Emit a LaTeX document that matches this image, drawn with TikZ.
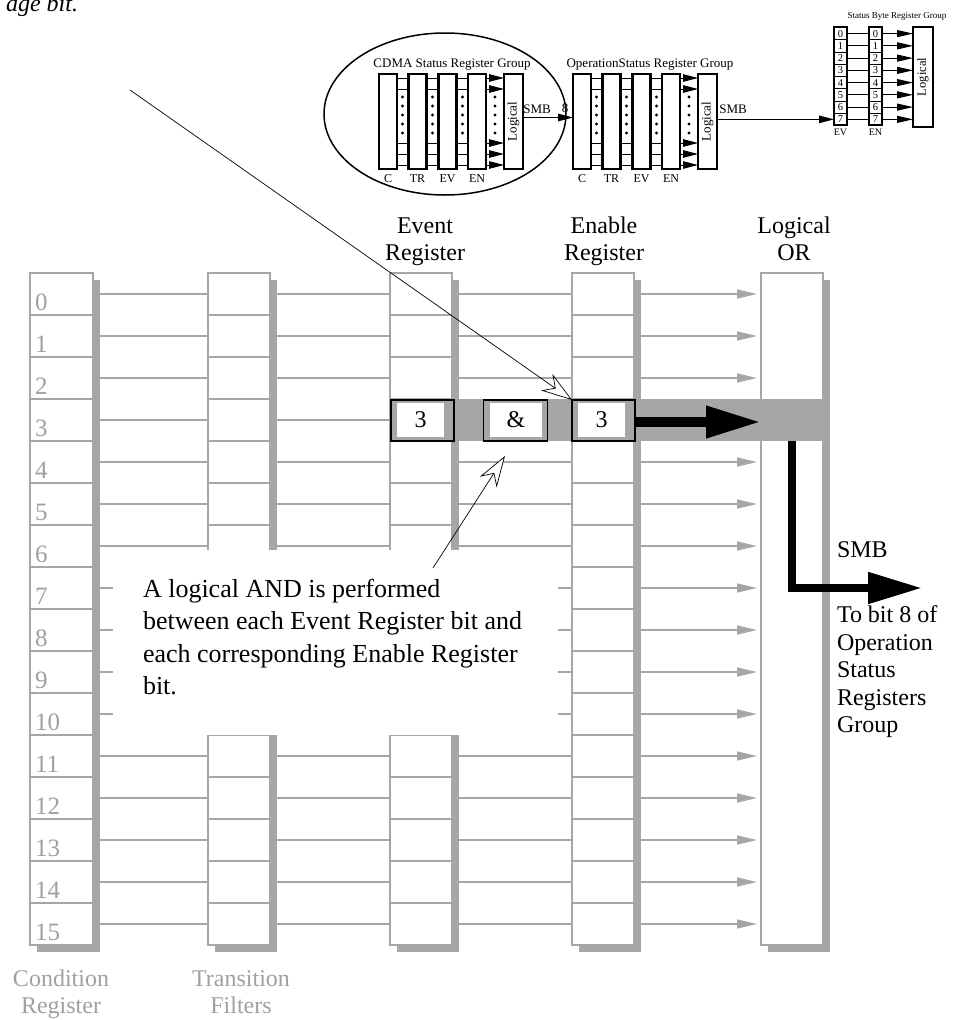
\documentclass[tikz,border=0pt]{standalone}
\usepackage{fontspec}
\setmainfont{Liberation Serif}
\usetikzlibrary{arrows.meta,shapes.geometric,shadows,backgrounds}
\definecolor{reggray}{RGB}{166,166,166}
\definecolor{txtgray}{RGB}{160,160,160}
\begin{document}
\begin{tikzpicture}[x=1pt,y=-1pt,
 every node/.style={inner sep=0pt,outer sep=0pt},
 regcol/.style={draw=reggray,line width=1.2pt,fill=white,minimum width=#1,minimum height=672,
   drop shadow={shadow xshift=7pt,shadow yshift=-7pt,fill=reggray,opacity=1}},
 sepline/.style={draw=reggray,line width=1.2pt},
 conn/.style={draw=reggray,line width=1.5pt},
 grayarrow/.style={conn,-{Triangle[length=20pt,width=9pt]},shorten >=4pt},
 bigfont/.style={font=\fontsize{24}{27}\selectfont},
 rownum/.style={font=\fontsize{25}{27}\selectfont,text=txtgray,anchor=base west},
 bitbox/.style={draw=black,line width=1.5pt,fill=reggray,minimum height=41},
 bitin/.style={fill=white,minimum height=34,font=\fontsize{24}{27}\selectfont},
 pointer/.style={draw=black,line width=0.7pt,-{Stealth[open,fill=white,length=31pt,width=20pt,inset=10pt]}},
 mbox/.style={draw=black,line width=2.4pt,fill=white,minimum width=18,minimum height=95},
 mline/.style={draw=black,line width=1pt},
 marrow/.style={draw=black,line width=1pt,-{Triangle[length=15pt,width=7.5pt]}},
 minifont/.style={font=\fontsize{13}{15}\selectfont},
 minilbl/.style={font=\fontsize{12}{14}\selectfont,anchor=base},
 sbcell/.style={draw=black,line width=0.9pt,minimum width=13,minimum height=12.25,font=\fontsize{10.5}{12}\selectfont},
]
\useasboundingbox (0,0) rectangle (959,1020);

% cut-off text of previous paragraph
\node[font=\itshape\fontsize{24}{27}\selectfont,anchor=base east] (prevtxt) at (78,11) {age bit.};

% row coordinates
\foreach \i in {0,...,15} \coordinate (r\i) at (0,294+42*\i);
\foreach \k in {1,...,15} \coordinate (s\k) at (0,273+42*\k);

% register columns
\node[regcol=63] (cr) at (61.5,609) {};
\node[regcol=62] (tr) at (239,609) {};
\node[regcol=62] (ev) at (421,609) {};
\node[regcol=62] (en) at (603,609) {};
\node[regcol=62] (lor) at (792,609) {};

% row separators
\foreach \k in {1,...,15}{
  \foreach \c in {cr,tr,ev,en}
    \draw[sepline] (\c.west |- s\k) -- (\c.east |- s\k);
}

% connectors
\begin{scope}[on background layer]
\foreach \i in {0,...,15}{
  \draw[conn] (cr.east |- r\i) -- (tr.west |- r\i);
  \draw[conn] (tr.east |- r\i) -- (ev.west |- r\i);
  \draw[conn] (ev.east |- r\i) -- (en.west |- r\i);
  \draw[grayarrow] (en.east |- r\i) -- (lor.west |- r\i);
}
\end{scope}

% row numbers
\foreach \i in {0,...,15} \node[rownum] (num\i) at (35,310+42*\i) {\i};

% highlighted bit 3
\node[fill=reggray,minimum width=433,minimum height=42] (band) at (606.5,420) {};
\node[bitbox,minimum width=63] (evbit) at (422.5,420.5) {};
\node[bitin,minimum width=47] (evbitin) at (420.5,420) {3};
\node[bitbox,minimum width=64] (andbit) at (515.3,420.5) {};
\node[bitin,minimum width=52] (andbitin) at (516,420) {\&};
\node[bitbox,minimum width=63] (enbit) at (603.6,420.5) {};
\node[bitin,minimum width=47] (enbitin) at (601.6,420) {3};
\draw[line width=10pt,-{Triangle[length=55pt,width=30pt]}] (enbit.east |- 0,422) -- (lor.west |- 0,422);

\coordinate (smbend) at (922,588);
\draw[line width=8pt,-{Triangle[length=54pt,width=30pt]}] (lor.center |- band.south) -- (lor.center |- smbend) -- (smbend);

% callout
\node[fill=white,minimum width=445,minimum height=185] (callbg) at (335.5,642.5) {};
\node[font=\fontsize{26}{32.5}\selectfont,align=left,anchor=north west] (calltxt) at (143,579)
  {A logical AND is performed\\between each Event Register bit and\\each corresponding Enable Register\\bit.};

\coordinate (pA) at (130,90);
\draw[pointer] (pA) -- (enbit.north west);
\coordinate (pB) at (433,568);
\coordinate (pBtip) at (505,456);
\draw[pointer] (pB) -- (pBtip);

% labels
\node[bigfont,align=center,anchor=south] (evlbl) at (425,266) {Event\\Register};
\node[bigfont,align=center,anchor=south] (enlbl) at (604,266) {Enable\\Register};
\node[bigfont,align=center,anchor=south] (orlbl) at (794,261) {Logical\\OR};
\node[bigfont,align=center,anchor=south,text=txtgray] (crlbl) at (61,1019) {Condition\\Register};
\node[bigfont,align=center,anchor=south,text=txtgray] (tflbl) at (241,1014) {Transition\\Filters};
\node[bigfont,anchor=base west] (smblbl) at (837,557) {SMB};
\node[font=\fontsize{24}{27.5}\selectfont,align=left,anchor=north west] (tobit) at (837,606)
  {To bit 8 of\\Operation\\Status\\Registers\\Group};

% ---------- overview diagram ----------
\node[draw=black,line width=1.5pt,ellipse,minimum width=242,minimum height=162] (cdell) at (445,114) {};

\foreach \g/\dx in {cd/0,op/194}{
  \node[mbox] (\g-C) at (388+\dx,121.5) {};
  \node[mbox] (\g-TR) at (417.5+\dx,121.5) {};
  \node[mbox] (\g-EV) at (447.5+\dx,121.5) {};
  \node[mbox] (\g-EN) at (477+\dx,121.5) {};
  \node[mbox,minimum width=19] (\g-L) at (513.5+\dx,121.5) {};
  \node[minifont,rotate=90] (\g-Ltxt) at (\g-L) {Logical};
  \foreach \y in {78,89,143,154,165}{
    \draw[mline] (\g-C.east |- 0,\y) -- (\g-TR.west |- 0,\y);
    \draw[mline] (\g-TR.east |- 0,\y) -- (\g-EV.west |- 0,\y);
    \draw[mline] (\g-EV.east |- 0,\y) -- (\g-EN.west |- 0,\y);
    \draw[marrow] (\g-EN.east |- 0,\y) -- (\g-L.west |- 0,\y);
  }
  \foreach \xx in {402.5,432.5,462.5,495}
    \foreach \yy in {97,106,115,124,133}
      \fill (\xx+\dx,\yy) circle[radius=1.6pt];
  \node[minilbl] (\g-lC) at (\g-C.south |- 0,182) {C};
  \node[minilbl] (\g-lTR) at (\g-TR.south |- 0,182) {TR};
  \node[minilbl] (\g-lEV) at (\g-EV.south |- 0,182) {EV};
  \node[minilbl] (\g-lEN) at (\g-EN.south |- 0,182) {EN};
}
\node[minifont,anchor=base] (cdtitle) at (452,67) {CDMA Status Register Group};
\node[minifont,anchor=base] (optitle) at (650,67) {OperationStatus Register Group};

% status byte group
\node[draw=black,line width=2.2pt,minimum width=20,minimum height=100] (sbL) at (923,77) {};
\node[font=\fontsize{12.5}{14}\selectfont,rotate=90] (sbLtxt) at (sbL) {Logical};
\foreach \i in {0,...,7}{
  \node[sbcell] (sbev\i) at (840.5,33.6+12.25*\i) {\i};
  \node[sbcell] (sben\i) at (875.5,33.6+12.25*\i) {\i};
  \draw[mline] (sbev\i.east) -- (sben\i.west);
  \draw[draw=black,line width=1pt,-{Triangle[length=16pt,width=7pt]}] (sben\i.east) -- (sbL.west |- sben\i.east);
}
\draw[line width=2pt] (sbev0.north west) rectangle (sbev7.south east);
\draw[line width=2pt] (sben0.north west) rectangle (sben7.south east);
\node[font=\fontsize{10}{12}\selectfont,anchor=base] (sblEV) at (840.5,135) {EV};
\node[font=\fontsize{10}{12}\selectfont,anchor=base] (sblEN) at (875.5,135) {EN};
\node[font=\fontsize{9}{11}\selectfont,anchor=base] (sbtitle) at (897,18) {Status Byte Register Group};

% SMB links
\coordinate (smbrow) at (0,117.5);
\draw[marrow] (cd-L.east |- smbrow) -- (op-C.west |- smbrow);
\draw[marrow] (op-L.east |- sbev7) -- (sbev7.west);
\node[minifont,anchor=base] (smbA) at (537,113) {SMB};
\node[minifont,anchor=base] (eight) at (565,112) {8};
\node[minifont,anchor=base] (smbB) at (733,113) {SMB};
\end{tikzpicture}
\end{document}
